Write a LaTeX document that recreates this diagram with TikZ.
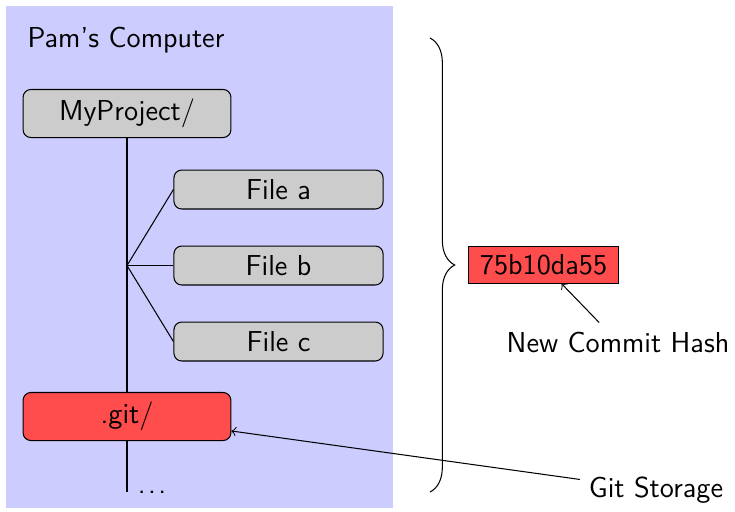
\documentclass[tikz,border=0pt]{standalone}
\usetikzlibrary{decorations.pathreplacing}
\tikzset{
	dirbox/.style={draw, fill=gray!40, rounded corners=3pt, minimum width=80pt, minimum height=18.5pt},
	filebox/.style={draw, fill=gray!40, rounded corners=3pt, minimum width=80.5pt, minimum height=15pt},
}
\begin{document}
\begin{tikzpicture}[x=0.385pt, y=-0.385pt, font=\sffamily\fontsize{11.1}{13}\selectfont]
	\useasboundingbox (0,0) rectangle (735,511);
	\fill[blue!20] (6,6) rectangle (393,508);
	\node[anchor=base west, inner sep=0] (pc) at (27,47) {Pam's Computer};
	
	\node[dirbox] (proj) at (127,113.5) {MyProject/};
	\node[filebox] (filea) at (278.5,189.5) {File a};
	\node[filebox] (fileb) at (278.5,265.5) {File b};
	\node[filebox] (filec) at (278.5,341.5) {File c};
	\node[dirbox, fill=red!70] (git) at (127,416.5) {.git/};
	\coordinate (fork) at (127,265.5);
	\coordinate (end) at (127,492);
	
	\draw (proj) -- (git);
	\draw (git) -- (end) node[right, inner sep=4pt] {.\kern0.9pt.\kern0.9pt.};
	\draw (fork) -- (filea.west);
	\draw (fork) -- (fileb.west);
	\draw (fork) -- (filec.west);
	
	\draw[decorate, decoration={brace, amplitude=9.5pt}] (430,38) -- (430,492);
	\node[draw, fill=red!70, inner xsep=4.5pt, inner ysep=3pt] (hash) at (543.5,265) {75b10da55};
	\node (hashlbl) at (618,342) {New Commit Hash};
	\node (store) at (656,490) {Git Storage};
	\draw[->] (hashlbl) -- (hash);
	\draw[->] (store) -- (git);
\end{tikzpicture}
\end{document}
